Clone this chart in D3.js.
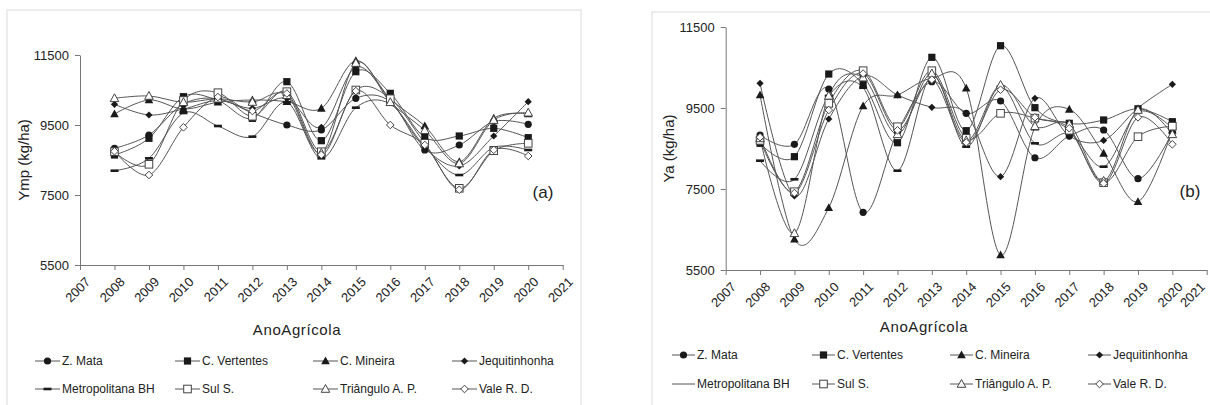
<html>
  <head>
    <meta charset="utf-8">
    <title>Ymp / Ya</title>
    <script src="https://d3js.org/d3.v7.min.js" charset="utf-8"></script>
    <style>
      body { margin: 0; background: #fff; }
      text { font-family: "Liberation Sans", Arial, sans-serif; fill: #222; }
    </style>
  </head>
  <body>
    <div id="chart"></div>
    <script>
      // years of the series and the axis ticks
      const years = [2008, 2009, 2010, 2011, 2012, 2013, 2014, 2015, 2016, 2017, 2018, 2019, 2020];
      const tickYears = [2007, 2008, 2009, 2010, 2011, 2012, 2013, 2014, 2015, 2016, 2017, 2018, 2019, 2020, 2021];
      const yTicks = [5500, 7500, 9500, 11500];

      const regions = ["Z. Mata", "C. Vertentes", "C. Mineira", "Jequitinhonha",
                       "Metropolitana BH", "Sul S.", "Triângulo A. P.", "Vale R. D."];
      const markers = ["circle", "square", "triangle", "diamond", "dash", "osquare", "otriangle", "odiamond"];

      // (a) Ymp (kg/ha)
      const ympZMata       = [8834, 9214, 10100, 10250, 9843, 9500, 9357, 10263, 10167, 8786, 8929, 9600, 9520];
      const ympCVertentes  = [8643, 9120, 10309, 10200, 9690, 10738, 9052, 11023, 10405, 9148, 9186, 9405, 9138];
      const ympCMineira    = [9814, 10214, 9957, 10150, 10214, 10167, 9976, 11337, 10250, 9471, 8452, 9690, 9814];
      const ympJequit      = [10091, 9786, 9957, 10200, 9976, 10263, 9434, 11150, 10200, 8850, 8329, 9186, 10167];
      const ympMetroBH     = [8194, 8548, 9843, 9471, 9167, 10150, 8548, 9995, 10100, 8881, 8071, 8862, 8786];
      const ympSulS        = [8737, 8377, 10200, 10423, 9750, 10452, 8737, 10500, 10250, 8977, 7691, 8765, 8976];
      const ympTriangulo   = [10263, 10329, 10150, 10250, 10157, 10350, 8700, 11270, 10150, 9350, 8400, 9640, 9850];
      const ympValeRD      = [8750, 8071, 9434, 10300, 9900, 10400, 8650, 10470, 9500, 8930, 7650, 8790, 8614];

      // (b) Ya (kg/ha)
      const yaZMata        = [8833, 8603, 9969, 6924, 8915, 10150, 9368, 9673, 8272, 8808, 8957, 7755, 8900];
      const yaCVertentes   = [8628, 8298, 10339, 10092, 8643, 10751, 8940, 11038, 9508, 9122, 9204, 9480, 9162];
      const yaCMineira     = [9821, 6258, 7039, 9549, 9821, 10233, 9986, 5870, 9023, 9467, 8380, 7186, 8950];
      const yaJequit       = [10109, 7327, 9228, 10290, 9821, 9516, 9368, 7805, 9740, 8808, 8700, 9500, 10085];
      const yaMetroBH      = [8199, 7739, 9800, 10000, 7952, 10300, 8545, 10026, 8628, 8870, 8051, 9400, 9000];
      const yaSulS         = [8700, 7433, 9615, 10421, 9038, 10421, 8751, 9368, 9250, 8950, 7656, 8792, 9050];
      const yaTriangulo    = [8750, 6406, 9800, 10250, 8850, 10350, 8700, 10068, 9050, 9100, 7700, 9450, 8850];
      const yaValeRD       = [8780, 7400, 9450, 10350, 8950, 10200, 8650, 9950, 9270, 9000, 7640, 9270, 8603];

      const ympSeries = [ympZMata, ympCVertentes, ympCMineira, ympJequit, ympMetroBH, ympSulS, ympTriangulo, ympValeRD];
      const yaSeries = [yaZMata, yaCVertentes, yaCMineira, yaJequit, yaMetroBH, yaSulS, yaTriangulo, yaValeRD];

      const svg = d3.select("#chart").append("svg")
        .attr("width", 1210)
        .attr("height", 405);

      const lineColor = "#555";
      const markColor = "#1a1a1a";

      function drawMarker(g, type, cx, cy) {
        const k = g.append("g").attr("transform", "translate(" + cx + "," + cy + ")");
        if (type === "circle") {
          k.append("circle").attr("r", 3.6).attr("fill", markColor);
        } else if (type === "square") {
          k.append("rect").attr("x", -3.6).attr("y", -3.6).attr("width", 7.2).attr("height", 7.2).attr("fill", markColor);
        } else if (type === "triangle") {
          k.append("path").attr("d", "M0,-4.5L4.3,3.3L-4.3,3.3Z").attr("fill", markColor);
        } else if (type === "diamond") {
          k.append("path").attr("d", "M0,-3.6L3.6,0L0,3.6L-3.6,0Z").attr("fill", markColor);
        } else if (type === "dash") {
          k.append("rect").attr("x", -4).attr("y", -1.3).attr("width", 8).attr("height", 2.6).attr("fill", markColor);
        } else if (type === "osquare") {
          k.append("rect").attr("x", -3.8).attr("y", -3.8).attr("width", 7.6).attr("height", 7.6)
            .attr("fill", "#fff").attr("stroke", "#444").attr("stroke-width", 1);
        } else if (type === "otriangle") {
          k.append("path").attr("d", "M0,-4.5L4.3,3.3L-4.3,3.3Z")
            .attr("fill", "#fff").attr("stroke", "#444").attr("stroke-width", 1);
        } else if (type === "odiamond") {
          k.append("path").attr("d", "M0,-3.8L3.8,0L0,3.8L-3.8,0Z")
            .attr("fill", "#fff").attr("stroke", "#444").attr("stroke-width", 1);
        }
      }

      function drawPanel(p) {
        const g = svg.append("g");

        // light frame around the panel
        g.append("rect")
          .attr("x", p.frame[0]).attr("y", p.frame[1])
          .attr("width", p.frame[2]).attr("height", p.frame[3])
          .attr("fill", "none").attr("stroke", "#dcdcdc");

        const x = d3.scaleLinear().domain([2007, 2021]).range([p.left, p.right]);
        const y = d3.scaleLinear().domain([5500, 11500]).range([p.bottom, p.top]);

        const xAxis = g.append("g")
          .attr("transform", "translate(0," + p.bottom + ")")
          .call(d3.axisBottom(x).tickValues(tickYears).tickSize(5).tickSizeOuter(0).tickFormat(d3.format("d")));
        xAxis.selectAll("text")
          .attr("text-anchor", "end")
          .attr("font-size", 13)
          .attr("dx", 0).attr("dy", 0)
          .attr("transform", d => "translate(" + (d === 2021 ? p.lastShift : 5) + ",12) rotate(-45)");

        const yAxis = g.append("g")
          .attr("transform", "translate(" + p.left + ",0)")
          .call(d3.axisLeft(y).tickValues(yTicks).tickSize(5).tickSizeOuter(0).tickFormat(d3.format("d")));
        yAxis.selectAll("text").attr("font-size", 13).attr("dx", -3);

        g.selectAll(".domain, .tick line").attr("stroke", "#777");
        g.selectAll(".tick text").attr("fill", "#222").attr("font-family", "Liberation Sans, Arial, sans-serif");

        g.append("text")
          .attr("transform", "translate(" + p.yTitleX + "," + ((p.top + p.bottom) / 2) + ") rotate(-90)")
          .attr("text-anchor", "middle")
          .attr("font-size", 15)
          .text(p.yTitle);

        g.append("text")
          .attr("x", p.xTitle[0]).attr("y", p.xTitle[1])
          .attr("text-anchor", "middle")
          .attr("font-size", 15)
          .attr("letter-spacing", 0.6)
          .text("AnoAgrícola");

        g.append("text")
          .attr("x", p.tag[0]).attr("y", p.tag[1])
          .attr("text-anchor", "middle")
          .attr("font-size", 17)
          .text(p.tagText);

        const line = d3.line()
          .x((d, i) => x(years[i]))
          .y(d => y(d))
          .curve(d3.curveCatmullRom.alpha(0));

        p.series.forEach((vals, s) => {
          g.append("path")
            .attr("d", line(vals))
            .attr("fill", "none")
            .attr("stroke", lineColor)
            .attr("stroke-width", 1);
        });
        p.series.forEach((vals, s) => {
          vals.forEach((v, i) => drawMarker(g, markers[s], x(years[i]), y(v)));
        });

        // legend, 4 columns x 2 rows
        regions.forEach((name, s) => {
          const lx = p.legendX[s % 4];
          const ly = p.legendY[Math.floor(s / 4)];
          g.append("line")
            .attr("x1", lx).attr("x2", lx + p.legendLen)
            .attr("y1", ly).attr("y2", ly)
            .attr("stroke", lineColor);
          if (!(p.noLegendDash && markers[s] === "dash")) {
            drawMarker(g, markers[s], lx + p.legendLen / 2, ly);
          }
          g.append("text")
            .attr("x", lx + p.legendLen + 2).attr("y", ly)
            .attr("dy", "0.35em")
            .attr("font-size", 12)
            .text(name);
        });
      }

      drawPanel({
        series: ympSeries,
        frame: [7, 10, 574, 410],
        left: 80, right: 562.7, top: 55, bottom: 265,
        yTitle: "Ymp (kg/ha)", yTitleX: 29,
        xTitle: [297, 335],
        tag: [543, 198], tagText: "(a)",
        legendX: [35, 175, 313, 452], legendY: [361, 389], legendLen: 25,
        lastShift: 5
      });

      drawPanel({
        series: yaSeries,
        frame: [652, 12, 580, 410],
        left: 725.7, right: 1206.7, top: 27, bottom: 270,
        yTitle: "Ya (kg/ha)", yTitleX: 674,
        xTitle: [924, 332],
        tag: [1190, 197], tagText: "(b)",
        legendX: [672, 812, 950, 1088], legendY: [355, 384], legendLen: 23,
        noLegendDash: true,
        lastShift: -7
      });
    </script>
  </body>
</html>
